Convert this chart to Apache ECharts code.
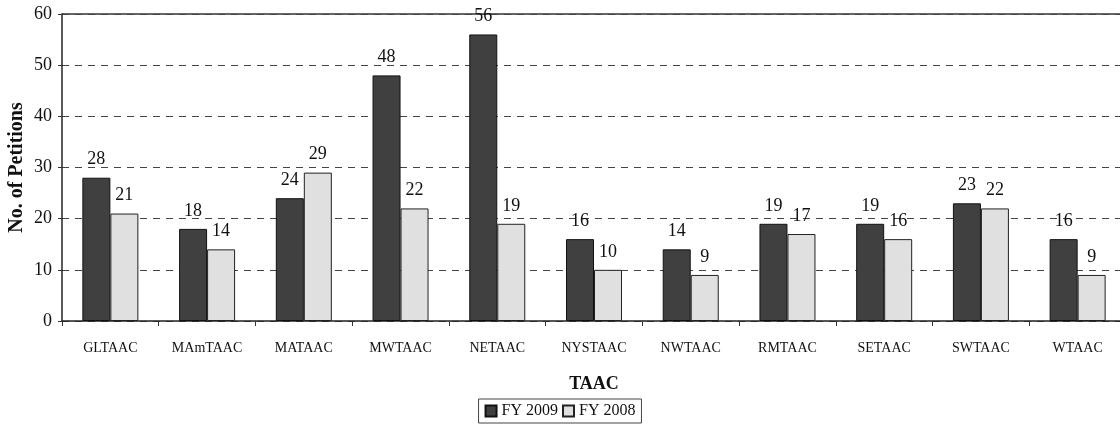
<!DOCTYPE html>
<html><head><meta charset="utf-8">
<script src="https://cdn.jsdelivr.net/npm/echarts@6/dist/echarts.min.js"></script>
<style>html,body{margin:0;padding:0;background:#fff}#c{width:1120px;height:444px}</style>
</head><body><div id="c"></div>
<script>
const categories = ['GLTAAC','MAmTAAC','MATAAC','MWTAAC','NETAAC','NYSTAAC','NWTAAC','RMTAAC','SETAAC','SWTAAC','WTAAC'];
const fy2009 = [28,18,24,48,56,16,14,19,19,23,16];
const fy2008 = [21,14,29,22,19,10,9,17,16,22,9];
const yTicks = [0,10,20,30,40,50,60];

const font = 'Liberation Serif';
const chart = echarts.init(document.getElementById('c'));
chart.setOption({
  animation:false,
  backgroundColor:'#fff',
  textStyle:{fontFamily:font,color:'#111'},
  grid:{left:62,right:-6,top:14,bottom:123,containLabel:false,outerBoundsMode:'none'},
  legend:{
    bottom:21,left:'center',itemWidth:11,itemHeight:11,itemGap:4,icon:'rect',
    borderColor:'#444',borderWidth:1,padding:[4,6,4,6],
    textStyle:{fontFamily:font,fontSize:16,color:'#111'},
    data:['FY 2009','FY 2008']
  },
  xAxis:{
    type:'category',data:categories,
    name:'TAAC',nameLocation:'middle',nameGap:54,nameMoveOverlap:false,
    nameTextStyle:{fontFamily:font,fontSize:18,fontWeight:'bold',color:'#111'},
    axisLine:{lineStyle:{color:'#222',width:1.5}},
    axisTick:{show:true,length:5,lineStyle:{color:'#333'}},
    axisLabel:{fontFamily:font,fontSize:14,color:'#111',margin:20}
  },
  yAxis:{
    type:'value',min:yTicks[0],max:yTicks[yTicks.length-1],interval:10,
    name:'No. of Petitions',nameLocation:'middle',nameGap:35,nameMoveOverlap:false,
    nameTextStyle:{fontFamily:font,fontSize:20,fontWeight:'bold',color:'#111'},
    axisLine:{show:true,lineStyle:{color:'#222',width:1.5}},
    axisTick:{show:true,length:4,lineStyle:{color:'#333'}},
    axisLabel:{fontFamily:font,fontSize:18,color:'#111',margin:10},
    splitLine:{show:true,lineStyle:{color:'#444',type:[7,6],width:1}}
  },
  graphic:[{type:'line',shape:{x1:62,y1:14,x2:1120,y2:14},style:{stroke:'#333',lineWidth:1.5}}],
  series:[
    {name:'FY 2009',type:'bar',data:fy2009,barWidth:28,barGap:'0%',
     itemStyle:{color:'#404040',borderColor:'#111',borderWidth:1},
     label:{show:true,position:'top',distance:9,fontFamily:font,fontSize:18,color:'#111'}},
    {name:'FY 2008',type:'bar',data:fy2008,barWidth:28,
     itemStyle:{color:'#e0e0e0',borderColor:'#222',borderWidth:1},
     label:{show:true,position:'top',distance:9,fontFamily:font,fontSize:18,color:'#111'}}
  ]
});
</script></body></html>
